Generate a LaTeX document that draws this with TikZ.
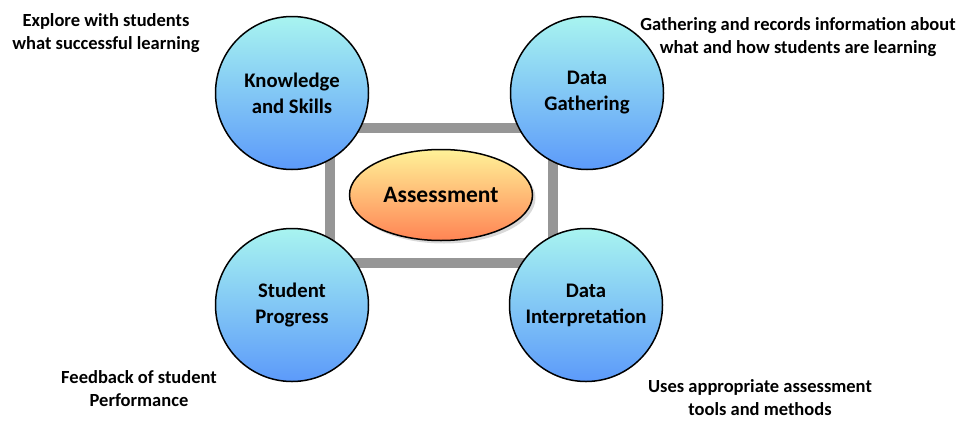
\documentclass[tikz,border=0pt]{standalone}
\usepackage{fontspec}
\setmainfont{Carlito}
\usetikzlibrary{shapes.geometric,shadows}

\definecolor{topictop}{RGB}{168,244,240}
\definecolor{topicbot}{RGB}{92,154,250}
\definecolor{coretop}{RGB}{255,242,152}
\definecolor{corebot}{RGB}{255,132,84}
\definecolor{framegray}{RGB}{150,150,150}

\tikzset{
  topic/.style={circle,draw,line width=1.5pt,minimum size=153pt,inner sep=0pt,
    top color=topictop,bottom color=topicbot,align=center,
    font=\fontsize{20.7}{26}\selectfont\bfseries},
  core/.style={ellipse,draw,line width=1.5pt,minimum width=183pt,minimum height=91pt,
    top color=coretop,bottom color=corebot,
    drop shadow={shadow xshift=3pt,shadow yshift=-3pt,fill=black!50,opacity=0.3},
    font=\fontsize{23.5}{26}\selectfont\bfseries},
  note/.style={align=center,inner sep=0pt,font=\fontsize{18.5}{23}\selectfont\bfseries}
}

\begin{document}
\begin{tikzpicture}[x=1pt,y=-1pt]
  \useasboundingbox (0,0) rectangle (972,421);
  % frame behind everything
  \draw[framegray,line width=10pt] (330,128) rectangle (553,263);

  \node[core](assess) at (441,195){Assessment};

  \node[topic](know) at (292,93){Knowledge\\and Skills};
  \node[topic](gather) at (587,93){Data\\Gathering};
  \node[topic](progress) at (292,305){Student\\Progress};
  \node[topic](interp) at (586,305){Data\\Interpretation};

  % notes next to the circles
  \node[note](explore) at (106,33){Explore with students\\what successful learning};
  \node[note](records) at (798,37){Gathering and records information about\\what and how students are learning};
  \node[note](feedback) at (139,389){Feedback of student\\Performance};
  \node[note](tools) at (760,398){Uses appropriate assessment\\tools and methods};
\end{tikzpicture}
\end{document}
